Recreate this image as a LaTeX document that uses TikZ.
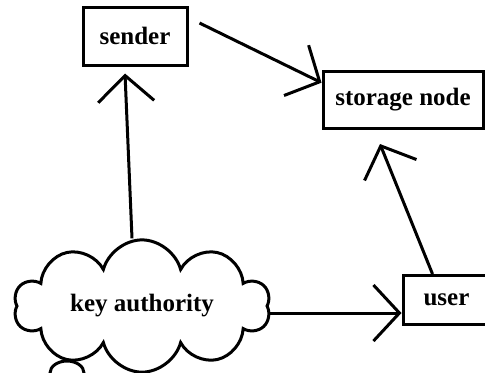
\documentclass[tikz,border=0pt]{standalone}
\usepackage{fontspec}
\setmainfont{Liberation Serif}
\usetikzlibrary{shapes.symbols,arrows.meta}
\tikzset{
  box/.style   = {shape=rectangle, draw, line width=1.5pt,
                  font=\fontsize{12.5}{14}\selectfont\bfseries, inner sep=0pt},
  cloudy/.style = {cloud, draw, line width=1.5pt, cloud puffs=10, aspect=2.3,
                  font=\fontsize{12.5}{14}\selectfont\bfseries, inner sep=0pt},
  link/.style  = {line width=1.5pt,
                  -{Straight Barb[length=13pt,width=28pt,line width=1.5pt]}}
}

\begin{document}
\begin{tikzpicture}[x=0.5pt,y=-0.5pt]
  \useasboundingbox (0,0) rectangle (485,372);

  \node [box, minimum width=52pt, minimum height=29pt] (sender) at (135,36) {sender};
  \node [box, minimum width=80pt, minimum height=28.5pt] (storage) at (403,100) {storage node};
  \node [box, minimum width=43.5pt, minimum height=24.5pt] (user) at (446.5,300) {user};
  \node [cloudy, minimum width=128pt, minimum height=54pt] (authority) at (142,306)
    {\raisebox{-6pt}{key authority}};
  % little puff under the cloud
  \draw [line width=1.5pt] (67,373) ellipse (8.5pt and 6pt);

  \coordinate (uin) at ([yshift=-6.5pt]user.west);
  \draw [link] ([xshift=-5pt]authority.north) -- ([xshift=-5pt,yshift=-3.5pt]sender.south);
  \draw [link] ([xshift=5.5pt,yshift=6.5pt]sender.east) -- (storage.168);
  \draw [link] (authority.east |- uin) -- (uin);
  \draw [link] ([xshift=-7pt]user.north) -- ([xshift=-11.5pt,yshift=-7pt]storage.south);
\end{tikzpicture}
\end{document}
